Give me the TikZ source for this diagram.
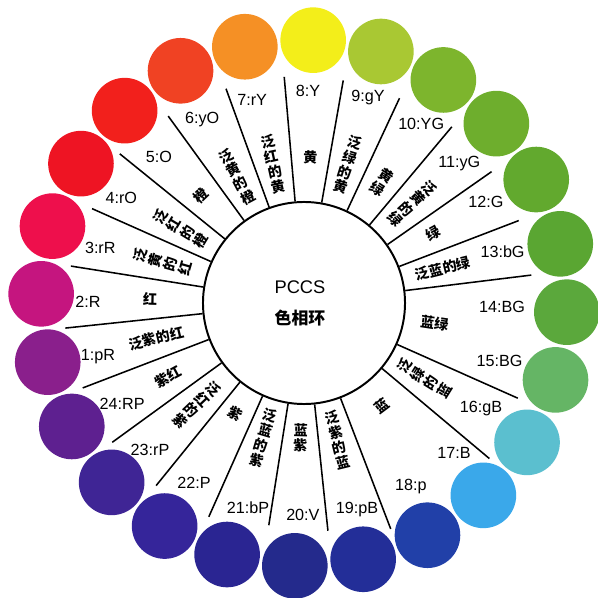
\documentclass[tikz,border=0pt]{standalone}
\usepackage{fontspec}
\setmainfont{Liberation Sans}
\newfontfamily\cjk{Noto Sans CJK SC}
\definecolor{tono1}{HTML}{8A1F8C}
\definecolor{tono2}{HTML}{C5157F}
\definecolor{tono3}{HTML}{EE0F4C}
\definecolor{tono4}{HTML}{EE1423}
\definecolor{tono5}{HTML}{F2201C}
\definecolor{tono6}{HTML}{F04223}
\definecolor{tono7}{HTML}{F59025}
\definecolor{tono8}{HTML}{F3EE1A}
\definecolor{tono9}{HTML}{A9C833}
\definecolor{tono10}{HTML}{7DB52D}
\definecolor{tono11}{HTML}{6EAE2D}
\definecolor{tono12}{HTML}{62A92E}
\definecolor{tono13}{HTML}{5AA632}
\definecolor{tono14}{HTML}{5BA83C}
\definecolor{tono15}{HTML}{65B565}
\definecolor{tono16}{HTML}{5BBFCF}
\definecolor{tono17}{HTML}{3AA8EA}
\definecolor{tono18}{HTML}{2140A8}
\definecolor{tono19}{HTML}{232E98}
\definecolor{tono20}{HTML}{242A8C}
\definecolor{tono21}{HTML}{2A2592}
\definecolor{tono22}{HTML}{35259A}
\definecolor{tono23}{HTML}{3F2595}
\definecolor{tono24}{HTML}{5E2090}
\tikzset{
  disco/.style={circle, minimum size=1.64cm, inner sep=0pt},
  centro/.style={circle, draw, line width=1.4pt, minimum size=5.05cm},
  raya/.style={line width=1.1pt},
  numero/.style={font=\fontsize{11.5}{13}\selectfont, inner sep=0pt},
  nombre/.style={font=\cjk\bfseries\fontsize{10}{11}\selectfont, align=center, inner sep=0pt}
}
\begin{document}
\begin{tikzpicture}[x=0.025cm, y=0.025cm]
  \useasboundingbox (-304,-295) rectangle (294,303);
  % anillo de 24 colores
  \foreach \k in {1,...,24}
    \node (c\k) [disco, fill=tono\k] at ({88+(8-\k)*15}:263) {};
  % circulo central
  \node (hub) [centro] at (0,0) {};
  \node (pccs) [font=\fontsize{13}{15}\selectfont] at (-4,16) {PCCS};
  \node (huan) [font=\cjk\bfseries\fontsize{12}{14}\selectfont] at (-4,-15) {色相环};
  % rayas entre sectores
  \foreach \ang/\rad in {80/226, 95/227, 110/228, 126/231, 141/237, 156/232, 171/236,
                         186/240, 201/237, 216/237, 231/235, 246/234, 261/225, 276/229,
                         291/242, 320/242, 336/234, 7/229, 21/230, 35/229, 50/230, 65/226}
    \draw [raya] (hub.\ang) -- (\ang:\rad);
  % numeros
  \foreach \k/\t/\ang/\rad in {1/pR/194.7/213, 2/R/179.7/216, 3/rR/164.9/211, 4/rO/150/211,
                               5/O/134.8/206, 6/yO/119/210, 7/rY/104.3/210, 8/Y/88.9/212,
                               9/gY/72.7/215, 10/YG/56.8/214, 11/yG/42/209, 12/G/29/208,
                               13/bG/14.4/205, 14/BG/359/198, 15/BG/343.5/204, 16/gB/329.3/206,
                               17/B/315/212, 18/p/300.3/212, 19/pB/284.4/213, 20/V/269.7/212,
                               21/bP/254.7/212, 22/P/238.6/211, 23/rP/223.7/213, 24/RP/209/208}
    \node (n\k) [numero] at (\ang:\rad) {\k:\t};
  % nombres
  \foreach \ang/\rad/\rot/\txt [count=\i] in {
      87.5/146/-2/黄, 102.5/142/12.5/{泛\\红\\的\\黄}, 118/143/28/{泛\\黄\\的\\橙},
      133.8/149/43.8/橙, 149/144/59/{泛\\红\\的\\橙}, 163.8/147/73.8/{泛\\黄\\的\\红},
      178.5/154/-1.5/红, 193.5/152/13.5/泛紫的红, 208.5/155/28.5/紫红,
      223.5/148/-46.5/{泛\\红\\的\\紫}, 238.3/130/-31.7/紫, 253.3/141/-16.7/{泛\\蓝\\的\\紫},
      268.5/135/-1.5/{蓝\\紫}, 283.8/141/13.8/{泛\\紫\\的\\蓝}, 306.9/129/36.9/蓝,
      328/142/58/{泛\\绿\\的\\蓝}, 351.3/132/-8.7/蓝绿, 14/143/14/泛蓝的绿,
      28.4/147/28.4/绿, 42.5/147/-47.5/{泛\\黄\\的\\绿}, 57.3/144/-32.7/{黄\\绿},
      72.5/145/-17.5/{泛\\绿\\的\\黄}}
    \node (z\i) [nombre, rotate=\rot] at (\ang:\rad) {\txt};
\end{tikzpicture}
\end{document}
